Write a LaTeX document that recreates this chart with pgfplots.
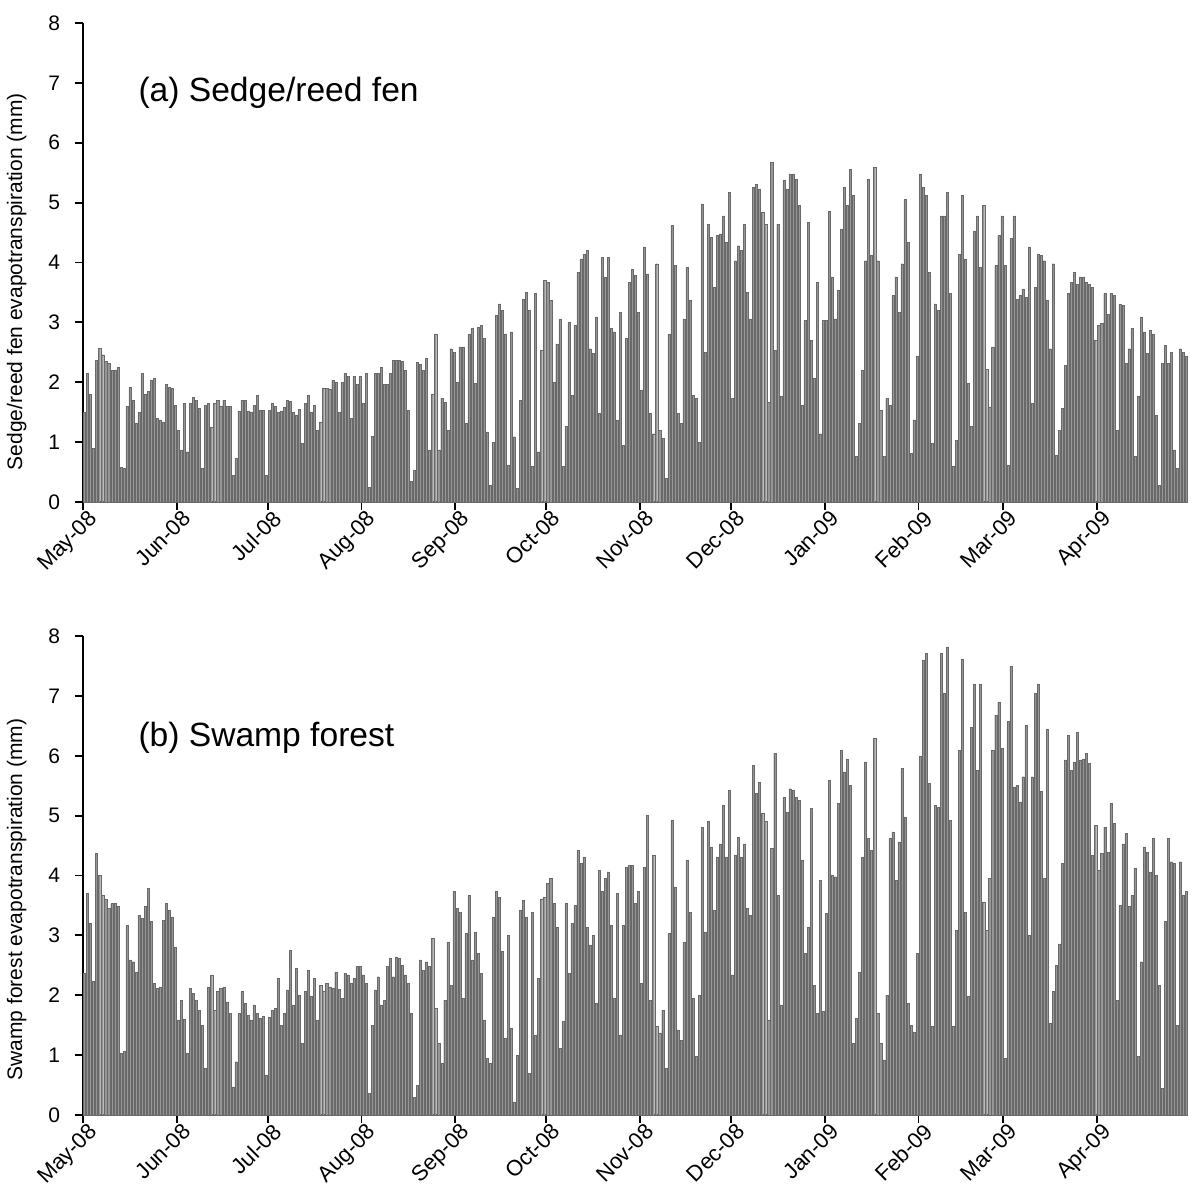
\documentclass[border=0pt]{standalone}
\usepackage{fontspec}
\setmainfont{Liberation Sans}
\usepackage{pgfplots}
\usepackage{pgfplotstable}
\pgfplotsset{compat=1.18}

\pgfplotstableread[row sep=\\]{
y\\
1.5\\2.15\\1.8\\0.9\\2.37\\2.57\\2.46\\2.35\\2.32\\2.2\\
2.2\\2.25\\0.58\\0.56\\1.6\\1.92\\1.7\\1.31\\1.5\\2.15\\
1.8\\1.85\\2.03\\2.06\\1.4\\1.37\\1.34\\1.96\\1.92\\1.9\\
1.62\\1.2\\0.87\\1.65\\0.84\\1.65\\1.75\\1.7\\1.56\\0.56\\
1.62\\1.65\\1.25\\1.65\\1.7\\1.6\\1.7\\1.6\\1.6\\0.45\\
0.73\\1.52\\1.7\\1.7\\1.52\\1.5\\1.62\\1.78\\1.53\\1.53\\
0.45\\1.53\\1.65\\1.6\\1.5\\1.52\\1.58\\1.7\\1.68\\1.5\\
1.45\\1.55\\0.98\\1.65\\1.78\\1.5\\1.62\\1.2\\1.34\\1.9\\
1.9\\1.88\\2.03\\2.0\\1.5\\2.0\\2.15\\2.1\\1.4\\2.1\\
1.96\\2.1\\1.65\\2.15\\0.25\\1.1\\2.15\\2.15\\2.25\\1.96\\
1.96\\2.15\\2.37\\2.37\\2.37\\2.35\\2.2\\1.53\\0.34\\0.53\\
2.33\\2.3\\2.2\\2.4\\0.87\\1.8\\2.81\\0.87\\1.73\\1.67\\
1.2\\2.56\\2.5\\2.0\\2.59\\2.59\\1.31\\2.81\\2.9\\1.98\\
2.92\\2.95\\2.73\\1.17\\0.28\\1.0\\3.12\\3.31\\3.2\\2.81\\
0.62\\2.84\\1.09\\0.23\\1.7\\3.39\\3.5\\3.2\\0.59\\3.48\\
0.84\\2.53\\3.7\\3.67\\3.37\\2.0\\2.64\\3.06\\0.59\\1.26\\
3.01\\1.78\\2.95\\3.84\\4.06\\4.14\\4.2\\2.56\\2.48\\3.09\\
1.48\\4.09\\3.75\\4.09\\2.9\\2.84\\1.37\\3.17\\0.95\\2.73\\
3.67\\3.89\\3.78\\3.17\\1.87\\4.26\\3.81\\1.48\\1.14\\3.98\\
1.2\\1.06\\0.39\\2.81\\4.62\\3.95\\1.48\\1.31\\3.06\\3.92\\
3.37\\1.78\\1.73\\1.0\\4.98\\2.5\\4.64\\4.42\\3.59\\4.45\\
4.48\\4.78\\4.34\\5.17\\1.73\\4.03\\4.28\\4.2\\4.64\\3.5\\
3.06\\5.26\\5.31\\5.23\\4.84\\4.64\\1.67\\5.67\\2.53\\4.64\\
1.76\\5.37\\5.23\\5.48\\5.48\\5.39\\4.95\\1.62\\3.03\\4.67\\
2.7\\2.06\\3.67\\1.14\\3.03\\3.03\\4.86\\3.76\\3.06\\3.53\\
4.56\\5.26\\4.95\\5.56\\5.12\\0.76\\1.31\\2.2\\4.03\\5.39\\
4.12\\5.59\\4.03\\1.53\\0.76\\1.73\\1.62\\3.45\\3.76\\3.17\\
3.98\\5.06\\4.34\\0.81\\1.37\\2.44\\5.48\\5.26\\5.12\\3.84\\
0.98\\3.31\\3.2\\4.78\\4.78\\5.17\\3.48\\0.59\\1.03\\4.14\\
5.12\\4.06\\1.98\\1.26\\4.53\\4.78\\3.92\\4.95\\2.22\\1.59\\
2.59\\3.95\\4.45\\4.78\\3.95\\0.62\\4.4\\4.78\\3.39\\3.45\\
3.56\\3.42\\4.26\\1.65\\3.59\\4.14\\4.12\\4.03\\3.37\\2.56\\
3.98\\0.78\\1.2\\1.56\\2.28\\3.48\\3.67\\3.84\\3.64\\3.76\\
3.76\\3.67\\3.64\\3.59\\2.7\\2.95\\2.98\\3.48\\3.14\\3.48\\
3.45\\1.2\\3.31\\3.28\\2.31\\2.56\\2.9\\0.76\\1.76\\3.09\\
2.84\\2.48\\2.87\\2.81\\1.45\\0.28\\2.31\\2.62\\2.31\\2.5\\
0.87\\0.56\\2.56\\2.5\\2.44\\
}\dataA

\pgfplotstableread[row sep=\\]{
y\\
2.37\\3.7\\3.2\\2.23\\4.37\\4.0\\3.67\\3.61\\3.45\\3.53\\
3.53\\3.48\\1.03\\1.06\\3.17\\2.59\\2.56\\2.39\\3.34\\3.28\\
3.48\\3.78\\3.23\\2.2\\2.11\\2.14\\3.25\\3.53\\3.42\\3.31\\
2.81\\1.59\\1.92\\1.6\\1.03\\2.11\\2.03\\1.92\\1.75\\1.5\\
0.78\\2.14\\2.34\\1.75\\2.06\\2.11\\2.14\\1.89\\1.7\\0.47\\
0.89\\1.7\\2.06\\1.87\\1.67\\1.59\\1.84\\1.7\\1.61\\1.65\\
0.67\\1.64\\1.75\\1.78\\2.28\\1.5\\1.7\\2.09\\2.75\\1.84\\
2.45\\2.0\\1.2\\2.06\\2.42\\1.98\\2.28\\1.59\\2.17\\2.06\\
2.2\\2.14\\2.11\\2.39\\2.1\\1.95\\2.37\\2.34\\2.2\\2.28\\
2.48\\2.48\\2.34\\2.2\\0.36\\1.5\\2.09\\2.31\\1.84\\1.92\\
2.48\\2.62\\2.31\\2.64\\2.62\\2.5\\2.34\\2.2\\1.7\\0.3\\
0.5\\2.59\\2.42\\2.56\\2.48\\2.95\\1.78\\1.2\\0.86\\1.92\\
2.89\\2.17\\3.73\\3.45\\3.39\\1.95\\3.03\\3.67\\2.59\\3.06\\
2.7\\2.37\\1.59\\0.95\\0.86\\3.31\\3.73\\3.64\\2.73\\1.28\\
3.0\\1.45\\0.22\\1.0\\3.42\\3.59\\3.31\\0.7\\3.39\\1.34\\
2.28\\3.61\\3.64\\3.87\\3.95\\3.53\\3.14\\1.11\\1.56\\3.53\\
2.37\\3.2\\3.5\\4.42\\4.2\\4.31\\3.14\\2.84\\3.0\\1.87\\
4.09\\3.73\\3.95\\4.06\\3.17\\1.95\\3.7\\1.34\\3.17\\4.14\\
4.17\\4.17\\3.53\\3.73\\2.2\\4.14\\5.01\\1.92\\4.34\\1.48\\
1.37\\1.75\\0.78\\3.03\\4.92\\3.81\\1.42\\1.25\\2.89\\4.25\\
3.39\\1.95\\0.98\\2.0\\4.81\\3.06\\4.9\\4.48\\3.42\\4.31\\
4.53\\5.17\\4.31\\5.42\\2.34\\4.34\\4.64\\4.31\\4.53\\3.45\\
3.34\\5.84\\5.37\\5.56\\5.04\\4.9\\1.59\\4.45\\6.04\\3.67\\
1.84\\5.31\\5.06\\5.45\\5.42\\5.31\\5.26\\4.25\\2.7\\3.14\\
5.12\\2.17\\1.7\\3.92\\1.73\\3.37\\5.59\\4.0\\3.98\\5.2\\
6.09\\5.73\\5.95\\5.51\\1.2\\1.61\\2.39\\4.31\\5.9\\4.62\\
4.42\\6.29\\1.7\\1.2\\0.92\\2.0\\4.62\\4.73\\3.92\\4.56\\
5.79\\4.98\\1.87\\1.5\\1.39\\2.7\\6.0\\7.6\\7.71\\5.54\\
1.48\\5.17\\5.14\\7.71\\7.04\\7.82\\4.92\\1.48\\3.09\\6.09\\
7.62\\3.39\\1.98\\6.48\\7.2\\5.76\\7.2\\3.56\\3.09\\3.95\\
6.09\\6.68\\6.9\\6.12\\0.95\\6.57\\7.49\\5.48\\5.51\\5.23\\
5.65\\6.51\\3.0\\5.65\\7.04\\7.2\\5.4\\3.95\\6.45\\1.53\\
2.06\\2.5\\2.86\\4.2\\5.93\\6.34\\5.76\\5.9\\6.4\\5.93\\
5.95\\6.04\\5.87\\4.34\\4.84\\4.09\\4.37\\4.81\\4.39\\5.2\\
4.87\\1.92\\3.5\\4.53\\4.7\\3.48\\3.67\\4.12\\0.98\\2.56\\
4.48\\4.39\\4.06\\4.62\\4.0\\2.17\\0.45\\3.23\\4.62\\4.23\\
4.2\\1.5\\4.23\\3.67\\3.73\\
}\dataB

\definecolor{barfill}{RGB}{150,150,150}
\definecolor{baredge}{RGB}{105,105,105}

\pgfplotsset{
  etpanel/.style={
    scale only axis,
    width=552.5pt, height=239.5pt,
    xmin=0, xmax=365, ymin=0, ymax=8,
    axis lines*=left,
    axis line style={-, line width=0.9pt},
    xtick={0,31,61,92,123,153,184,214,245,276,304,335},
    xticklabels={May-08,Jun-08,Jul-08,Aug-08,Sep-08,Oct-08,Nov-08,Dec-08,Jan-09,Feb-09,Mar-09,Apr-09},
    ytick={0,1,2,3,4,5,6,7,8},
    tick align=outside,
    major tick length=4pt,
    tick style={black, line width=0.9pt},
    /pgf/number format/assume math mode=true,
    xticklabel style={rotate=45, anchor=north east, inner sep=1pt, font=\fontsize{11}{13}\selectfont, xshift=3pt},
    yticklabel style={font=\fontsize{10.5}{12}\selectfont, xshift=-4pt},
    ylabel style={font=\fontsize{10.5}{12}\selectfont, rotate=0, anchor=center},
    clip=false,
  },
  etbars/.style={ybar, bar width=1.05pt, fill=barfill, draw=baredge, line width=0.2pt},
}

\begin{document}
\begin{tikzpicture}
\path[use as bounding box] (-41.5pt,-346.5pt) rectangle (554pt,251pt);

\begin{axis}[etpanel, at={(0pt,0pt)}, anchor=south west,
  ylabel={Sedge/reed fen evapotranspiration (mm)},
  ylabel style={at={(axis description cs:-0.06,0.46)}}]
\addplot[etbars] table[x expr=\coordindex+0.5, y=y] {\dataA};
\node[anchor=west, font=\fontsize{16.8}{20}\selectfont] at (axis cs:16,6.83) {(a) Sedge/reed fen};
\end{axis}

\begin{axis}[etpanel, at={(0pt,-306.5pt)}, anchor=south west,
  ylabel={Swamp forest evapotranspiration (mm)},
  ylabel style={at={(axis description cs:-0.06,0.45)}}]
\addplot[etbars] table[x expr=\coordindex+0.5, y=y] {\dataB};
\node[anchor=west, font=\fontsize{16.8}{20}\selectfont] at (axis cs:16,6.3) {(b) Swamp forest};
\end{axis}
\end{tikzpicture}
\end{document}
